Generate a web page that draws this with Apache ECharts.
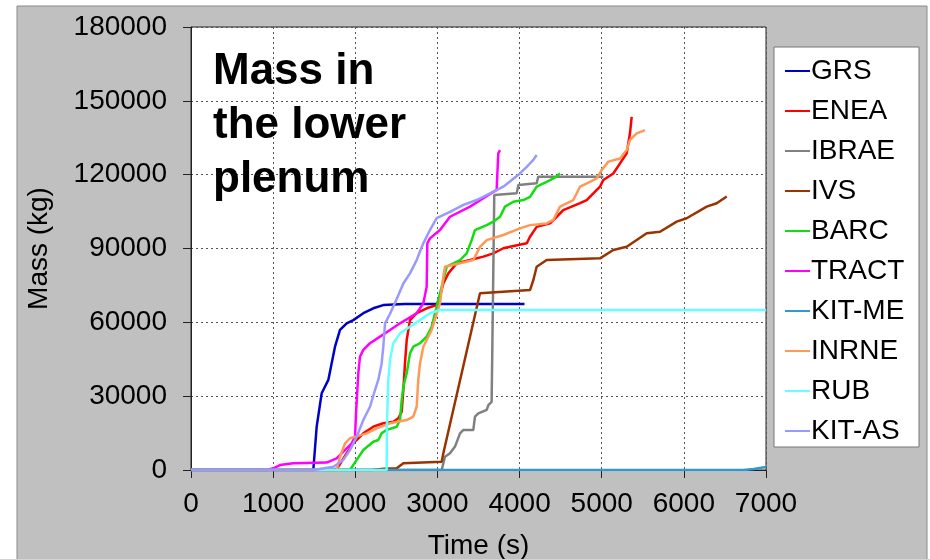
<!DOCTYPE html>
<html>
<head>
<meta charset="utf-8">
<script src="https://cdn.jsdelivr.net/npm/echarts@6/dist/echarts.min.js"></script>
<style>
  html, body { margin: 0; padding: 0; background: #fff; }
  #main { width: 930px; height: 559px; }
</style>
</head>
<body>
<div id="main"></div>
<script>
// 数据: [时间 s, 质量 kg]
const names = ['GRS', 'ENEA', 'IBRAE', 'IVS', 'BARC', 'TRACT', 'KIT-ME', 'INRNE', 'RUB', 'KIT-AS']
const colors = ['#0000CC', '#FF0000', '#808080', '#993300', '#11DD11', '#FF00FF', '#3399CC', '#FF9955', '#66FFFF', '#9999FF']

const grs = [[0, 0], [1489, 0], [1530, 17600], [1591, 31200], [1672, 36600], [1712, 43300], [1753, 50100], [1814, 56900],
  [1895, 59600], [1976, 60900], [2098, 63700], [2219, 65700], [2341, 67000], [2600, 67400], [4060, 67400]]
const enea = [[0, 0], [1753, 0], [1793, 1300], [1895, 6800], [1976, 10800], [2098, 14900], [2219, 17600], [2341, 19000],
  [2463, 19600], [2524, 21000], [2565, 23700], [2585, 32500], [2605, 43300], [2626, 52800], [2666, 60900], [2747, 63700],
  [2869, 65700], [2991, 67000], [3031, 70400], [3072, 75800], [3133, 79900], [3235, 84000], [3397, 85300], [3559, 86700],
  [3680, 88000], [3802, 90100], [3884, 90700], [4087, 92100], [4127, 94800], [4208, 98800], [4371, 100200], [4452, 102900],
  [4532, 105600], [4736, 108400], [4817, 109700], [4979, 115100], [5019, 117800], [5141, 120500], [5223, 124600],
  [5304, 128700], [5344, 136800], [5365, 143500]]
const ibrae = [[0, 0], [3052, 0], [3092, 5400], [3153, 6800], [3214, 9500], [3275, 14900], [3316, 16300], [3437, 16300],
  [3457, 21700], [3498, 23000], [3600, 24400], [3620, 26400], [3660, 27700], [3680, 28400], [3692, 111700], [3965, 112400],
  [3985, 115800], [4208, 116500], [4228, 119200], [5020, 119200]]
const ivs = [[0, 0], [2200, 0], [2350, 500], [2504, 700], [2585, 2700], [3052, 3400], [3072, 6800], [3518, 71800],
  [4127, 73100], [4168, 77200], [4208, 82600], [4330, 85300], [4979, 86000], [5141, 89400], [5304, 90700], [5548, 96200],
  [5710, 96800], [5913, 100900], [6034, 102300], [6278, 107000], [6400, 108400], [6522, 111100]]
const barc = [[0, 0], [1935, 0], [2017, 4100], [2098, 8100], [2219, 11500], [2280, 12200], [2321, 14900], [2382, 16300],
  [2504, 17600], [2544, 20300], [2565, 28400], [2585, 33800], [2626, 39300], [2666, 47400], [2706, 50100], [2788, 51500],
  [2869, 54200], [2930, 58200], [2970, 63700], [3052, 74500], [3072, 77200], [3113, 82600], [3275, 85300], [3356, 88000],
  [3417, 93400], [3457, 97500], [3600, 99500], [3680, 100900], [3762, 102900], [3823, 107000], [3924, 109000],
  [4046, 109700], [4127, 111000], [4208, 115100], [4330, 117100], [4452, 119200], [4492, 120500]]
const tract = [[0, 0], [921, 0], [1002, 700], [1083, 2000], [1245, 2700], [1652, 3000], [1773, 4700], [1895, 8800],
  [1956, 10800], [1997, 13500], [2009, 23000], [2037, 39300], [2057, 46000], [2098, 48800], [2179, 51500], [2301, 54200],
  [2423, 56900], [2544, 59600], [2646, 61600], [2747, 63700], [2828, 67700], [2869, 74500], [2877, 92100], [2909, 94100],
  [3031, 97500], [3153, 102900], [3397, 107000], [3559, 110400], [3721, 113800], [3741, 128700], [3762, 130000]]
const kitme = [[0, 0], [6720, 0], [6850, 400], [7000, 1200]]
const inrne = [[0, 0], [1773, 0], [1814, 5400], [1875, 10800], [1935, 12900], [2138, 14900], [2260, 16900], [2423, 19000],
  [2626, 20300], [2706, 21700], [2747, 25700], [2767, 36600], [2788, 43300], [2828, 50100], [2869, 52800], [2930, 56900],
  [3031, 67700], [3072, 78500], [3092, 82600], [3275, 84000], [3437, 85300], [3478, 88000], [3518, 90700], [3600, 93400],
  [3802, 95500], [4005, 98200], [4127, 99500], [4330, 100200], [4411, 101600], [4492, 107000], [4654, 109700],
  [4736, 115100], [4857, 117100], [4939, 118500], [5000, 121900], [5081, 125300], [5223, 126600], [5304, 130000],
  [5344, 134100], [5426, 136800], [5527, 138100]]
const rub = [[0, 0], [2382, 0], [2385, 17600], [2402, 36600], [2423, 44700], [2463, 51500], [2544, 55500], [2666, 58200],
  [2788, 60900], [2909, 63700], [3031, 65000], [7000, 65000]]
const kitas = [[0, 0], [1489, 0], [1733, 1300], [1854, 4100], [1935, 8100], [2017, 13500], [2098, 20300], [2179, 25700],
  [2240, 32500], [2280, 36600], [2321, 43300], [2341, 50100], [2362, 59600], [2423, 63500], [2504, 69500], [2585, 75800],
  [2666, 79900], [2747, 85300], [2828, 92100], [2909, 97500], [2991, 102300], [3153, 104900], [3316, 107700],
  [3478, 109700], [3640, 112400], [3802, 115100], [4005, 120500], [4087, 123200], [4168, 126000], [4208, 128000]]

const allData = [grs, enea, ibrae, ivs, barc, tract, kitme, inrne, rub, kitas]

const font = 'Liberation Sans, Arial, sans-serif'
const myChart = echarts.init(document.getElementById('main'))

const option = {
  backgroundColor: '#fff',
  animation: false,
  graphic: [
    // 灰色背景
    { type: 'rect', z: -10, shape: { x: 17, y: 6, width: 910, height: 560 },
      style: { fill: '#c0c0c0', stroke: '#8a8a8a', lineWidth: 1 } },
    // 图例框
    { type: 'rect', z: -5, shape: { x: 774, y: 47, width: 145, height: 400 },
      style: { fill: '#fff', stroke: '#777', lineWidth: 1 } }
  ],
  title: {
    text: 'Mass in\nthe lower\nplenum',
    left: 208,
    top: 40,
    textStyle: { fontFamily: font, fontSize: 44, fontWeight: 'bold', lineHeight: 54, color: '#000' }
  },
  legend: {
    orient: 'vertical',
    left: 780,
    top: 52,
    icon: 'rect',
    itemWidth: 25,
    itemHeight: 2,
    itemGap: 12,
    data: names,
    textStyle: { fontFamily: font, fontSize: 28, lineHeight: 28, color: '#000', padding: [0, 0, 0, -4] }
  },
  grid: {
    left: 191, top: 27, right: 164, bottom: 89,
    containLabel: false,
    outerBoundsMode: 'none',
    show: true, backgroundColor: '#fff', borderColor: '#222', borderWidth: 1
  },
  xAxis: {
    type: 'value',
    min: 0, max: 7000, interval: 1000,
    name: 'Time (s)',
    nameLocation: 'middle',
    nameGap: 62,
    nameTextStyle: { fontFamily: font, fontSize: 28, color: '#000' },
    axisLine: { show: true, lineStyle: { color: '#222' } },
    axisTick: { show: true, length: 8, lineStyle: { color: '#222' } },
    axisLabel: { fontFamily: font, fontSize: 28, color: '#000', margin: 20, formatter: v => String(v) },
    splitLine: { show: true, lineStyle: { color: '#555', type: [2, 3], width: 1 } }
  },
  yAxis: {
    type: 'value',
    min: 0, max: 180000, interval: 30000,
    name: 'Mass (kg)',
    nameLocation: 'middle',
    nameGap: 138,
    nameTextStyle: { fontFamily: font, fontSize: 28, color: '#000' },
    axisLine: { show: true, lineStyle: { color: '#222' } },
    axisTick: { show: true, length: 8, lineStyle: { color: '#222' } },
    axisLabel: { fontFamily: font, fontSize: 28, color: '#000', margin: 24, formatter: v => String(v) },
    splitLine: { show: true, lineStyle: { color: '#555', type: [2, 3], width: 1 } }
  },
  series: names.map((n, i) => ({
    name: n,
    type: 'line',
    data: allData[i],
    showSymbol: false,
    color: colors[i],
    lineStyle: { width: 2.5, color: colors[i] }
  }))
}

myChart.setOption(option)
</script>
</body>
</html>
